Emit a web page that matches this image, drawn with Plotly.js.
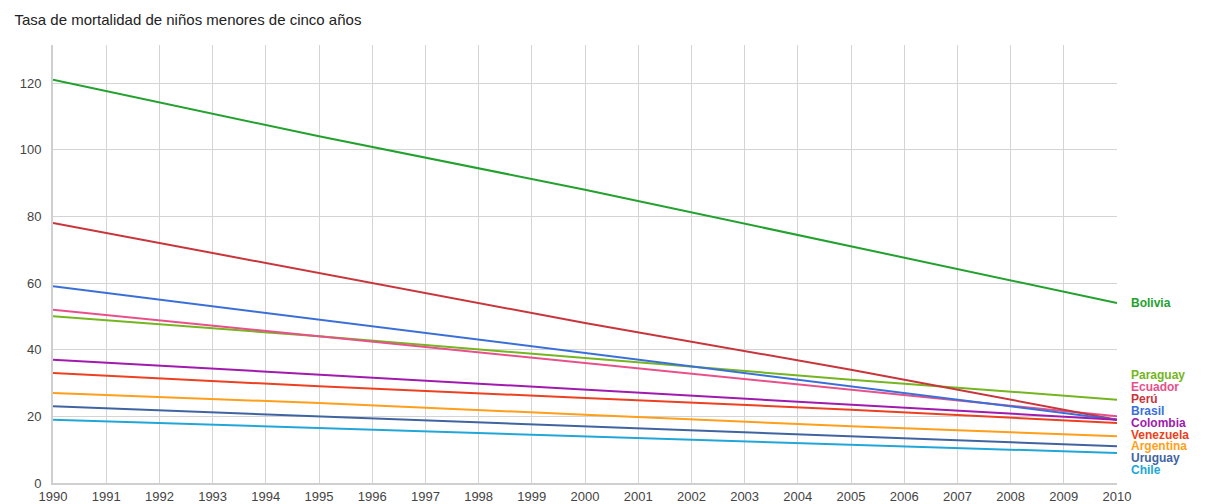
<!DOCTYPE html>
<html>
<head>
<meta charset="utf-8">
<script src="https://cdn.plot.ly/plotly-3.0.1.min.js"></script>
<style>html,body{margin:0;padding:0;background:#fff;}#chart{width:1210px;height:504px;}</style>
</head>
<body>
<div id="chart"></div>
<script>
const years = [1990, 1995, 2000, 2005, 2010];
const countries = ["Bolivia","Paraguay","Ecuador","Perú","Brasil","Colombia","Venezuela","Argentina","Uruguay","Chile"];
const bolivia   = [121, 104, 88, 71, 54];
const paraguay  = [50, 44, 37.5, 31, 25];
const ecuador   = [52, 44, 36, 28, 20];
const peru      = [78, 63, 48, 34, 19];
const brasil    = [59, 49, 39, 29, 19];
const colombia  = [37, 32.5, 28, 23.5, 19];
const venezuela = [33, 29, 25.5, 22, 18];
const argentina = [27, 24, 20.5, 17, 14];
const uruguay   = [23, 20, 17, 14, 11];
const chile     = [19, 16.5, 14, 11.5, 9];
const yTicks = [0, 20, 40, 60, 80, 100, 120];
const xTicks = [1990,1991,1992,1993,1994,1995,1996,1997,1998,1999,2000,2001,2002,2003,2004,2005,2006,2007,2008,2009,2010];

const seriesValues = [bolivia, paraguay, ecuador, peru, brasil, colombia, venezuela, argentina, uruguay, chile];
const colors = ["#22a12e","#74b520","#e8508a","#c8353b","#3b6fd8","#a01aad","#ec4020","#ff9f1a","#3f64a0","#20a7d8"];

const traces = countries.map((c, i) => ({
  x: years, y: seriesValues[i], name: c, type: 'scatter', mode: 'lines',
  line: {color: colors[i], width: 2}, hoverinfo: 'x+y+name'
}));

const yMax = 131.4;
const plotH = 504 - 45 - 21;
const unitPx = plotH / yMax;
const annotations = countries.map((c, i) => {
  let y;
  if (i === 0) y = seriesValues[0][seriesValues[0].length - 1];
  else y = 32.4 - (i - 1) * (11.9 / unitPx);
  return {
    xref: 'paper', yref: 'y', x: 1, y: y, xanchor: 'left', yanchor: 'middle',
    xshift: 13, text: '<b>' + c + '</b>', showarrow: false, borderpad: 0,
    font: {family: 'Liberation Sans, Arial, sans-serif', size: 12, color: colors[i]}
  };
});

const layout = {
  width: 1210, height: 504,
  margin: {l: 53, r: 93, t: 45, b: 21, pad: 0},
  paper_bgcolor: '#fff', plot_bgcolor: '#fff',
  showlegend: false,
  title: {text: 'Tasa de mortalidad de niños menores de cinco años', x: 0.012, xanchor: 'left', y: 0.96, yanchor: 'middle',
          font: {family: 'Liberation Sans, Arial, sans-serif', size: 15, color: '#222'}},
  xaxis: {range: [1990, 2010], tickvals: xTicks, ticktext: xTicks.map(String), showgrid: true, gridcolor: '#d4d4d4',
          gridwidth: 1, zeroline: false, showline: true, linecolor: '#cfcfcf', linewidth: 2, ticks: '',
          tickfont: {family: 'Liberation Sans, Arial, sans-serif', size: 13, color: '#444'}, fixedrange: true},
  yaxis: {range: [0, yMax], tickvals: yTicks, ticktext: yTicks.map(String), showgrid: true, gridcolor: '#d4d4d4',
          gridwidth: 1, zeroline: false, showline: true, linecolor: '#cfcfcf', linewidth: 2, ticks: '', ticklabelstandoff: 7,
          tickfont: {family: 'Liberation Sans, Arial, sans-serif', size: 13, color: '#444'}, fixedrange: true},
  annotations: annotations
};

Plotly.newPlot('chart', traces, layout, {displayModeBar: false, staticPlot: true});
</script>
</body>
</html>
